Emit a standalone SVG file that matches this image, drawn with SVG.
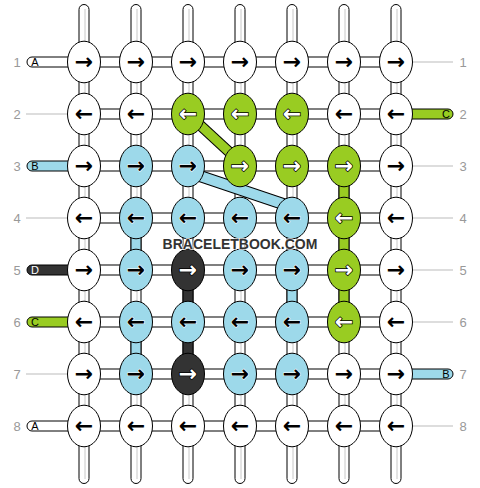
<svg xmlns="http://www.w3.org/2000/svg" width="480" height="488" viewBox="0 0 480 488">
<style>
.t{fill:#fff;stroke:#000;stroke-width:1}
.gl{stroke:#c8c8c8;stroke-width:1}
.lg{stroke:#bbb;stroke-width:1}
.cb{fill:#9dd9ea}.cg{fill:#99cc22}.cd{fill:#333}.cw{fill:#fff}
.n{stroke:#000;stroke-width:1}
.a{font-family:"DejaVu Sans",sans-serif;font-weight:bold;font-size:22px;text-anchor:middle;paint-order:stroke}
.al{fill:#000;stroke:#fff;stroke-width:1}
.ad{fill:#fff;stroke:#000;stroke-width:1.5}
.rl{font-family:"Liberation Sans",Arial,sans-serif;font-size:13px;fill:#999;text-anchor:middle}
.tl{font-family:"Liberation Sans",Arial,sans-serif;font-size:11px;fill:#000;text-anchor:middle}
</style>
<g id="connectors">
<g>
<rect class="t" x="79" y="4.5" width="10" height="60" rx="5"/><line class="gl" x1="85" y1="9" x2="85" y2="60"/>
<rect class="t" x="131" y="4.5" width="10" height="60" rx="5"/><line class="gl" x1="137" y1="9" x2="137" y2="60"/>
<rect class="t" x="183" y="4.5" width="10" height="60" rx="5"/><line class="gl" x1="189" y1="9" x2="189" y2="60"/>
<rect class="t" x="235" y="4.5" width="10" height="60" rx="5"/><line class="gl" x1="241" y1="9" x2="241" y2="60"/>
<rect class="t" x="287" y="4.5" width="10" height="60" rx="5"/><line class="gl" x1="293" y1="9" x2="293" y2="60"/>
<rect class="t" x="339" y="4.5" width="10" height="60" rx="5"/><line class="gl" x1="345" y1="9" x2="345" y2="60"/>
<rect class="t" x="391" y="4.5" width="10" height="60" rx="5"/><line class="gl" x1="397" y1="9" x2="397" y2="60"/>
<rect class="t" x="79" y="424" width="10" height="59.5" rx="5"/><line class="gl" x1="85" y1="430" x2="85" y2="479"/>
<rect class="t" x="131" y="424" width="10" height="59.5" rx="5"/><line class="gl" x1="137" y1="430" x2="137" y2="479"/>
<rect class="t" x="183" y="424" width="10" height="59.5" rx="5"/><line class="gl" x1="189" y1="430" x2="189" y2="479"/>
<rect class="t" x="235" y="424" width="10" height="59.5" rx="5"/><line class="gl" x1="241" y1="430" x2="241" y2="479"/>
<rect class="t" x="287" y="424" width="10" height="59.5" rx="5"/><line class="gl" x1="293" y1="430" x2="293" y2="479"/>
<rect class="t" x="339" y="424" width="10" height="59.5" rx="5"/><line class="gl" x1="345" y1="430" x2="345" y2="479"/>
<rect class="t" x="391" y="424" width="10" height="59.5" rx="5"/><line class="gl" x1="397" y1="430" x2="397" y2="479"/>
</g>
<g>
<rect class="t" x="79" y="62" width="10" height="364"/><line class="gl" x1="85" y1="62" x2="85" y2="426"/>
<rect class="t" x="131" y="62" width="10" height="364"/><line class="gl" x1="137" y1="62" x2="137" y2="426"/>
<rect class="t" x="183" y="62" width="10" height="364"/><line class="gl" x1="189" y1="62" x2="189" y2="426"/>
<rect class="t" x="235" y="62" width="10" height="364"/><line class="gl" x1="241" y1="62" x2="241" y2="426"/>
<rect class="t" x="287" y="62" width="10" height="364"/><line class="gl" x1="293" y1="62" x2="293" y2="426"/>
<rect class="t" x="339" y="62" width="10" height="364"/><line class="gl" x1="345" y1="62" x2="345" y2="426"/>
<rect class="t" x="391" y="62" width="10" height="364"/><line class="gl" x1="397" y1="62" x2="397" y2="426"/>
</g>
<g stroke="#000" stroke-width="1">
<rect class="cg" x="339" y="166" width="10" height="156"/>
<rect class="cb" x="131" y="218" width="10" height="52"/>
<rect class="cb" x="131" y="322" width="10" height="52"/>
<rect class="cb" x="287" y="270" width="10" height="52"/>
<rect class="cd" x="183" y="270" width="10" height="104"/>
</g>
<g>
<rect class="t" x="84" y="57" width="312" height="10"/>
<rect class="t" x="84" y="109" width="312" height="10"/>
<rect class="t" x="84" y="161" width="312" height="10"/>
<rect class="t" x="84" y="213" width="312" height="10"/>
<rect class="t" x="84" y="265" width="312" height="10"/>
<rect class="t" x="84" y="317" width="312" height="10"/>
<rect class="t" x="84" y="369" width="312" height="10"/>
<rect class="t" x="84" y="421" width="312" height="10"/>
</g>
<g stroke="#000" stroke-width="1">
<rect class="cw" x="27" y="57" width="52" height="10" rx="5"/>
<rect class="cb" x="27" y="161" width="52" height="10" rx="5"/>
<rect class="cd" x="27" y="265" width="52" height="10" rx="5"/>
<rect class="cg" x="27" y="317" width="52" height="10" rx="5"/>
<rect class="cw" x="27" y="421" width="52" height="10" rx="5"/>
<rect class="cg" x="401" y="109" width="52" height="10" rx="5"/>
<rect class="cb" x="401" y="369" width="52" height="10" rx="5"/>
</g>
<g>
<line class="lg" x1="26" y1="114" x2="68" y2="114"/>
<line class="lg" x1="26" y1="218" x2="68" y2="218"/>
<line class="lg" x1="26" y1="374" x2="68" y2="374"/>
<line class="lg" x1="412" y1="62" x2="453" y2="62"/>
<line class="lg" x1="412" y1="166" x2="453" y2="166"/>
<line class="lg" x1="412" y1="218" x2="453" y2="218"/>
<line class="lg" x1="412" y1="270" x2="453" y2="270"/>
<line class="lg" x1="412" y1="322" x2="453" y2="322"/>
<line class="lg" x1="412" y1="426" x2="453" y2="426"/>
</g>
<g stroke-linecap="butt">
<line x1="188" y1="114" x2="240" y2="162" stroke="#000" stroke-width="11"/>
<line x1="188" y1="114" x2="240" y2="162" stroke="#99cc22" stroke-width="9"/>
<line x1="188" y1="172" x2="292" y2="207" stroke="#000" stroke-width="12"/>
<line x1="188" y1="172" x2="292" y2="207" stroke="#9dd9ea" stroke-width="10"/>
</g>
</g>
<g id="thread-labels">
<text class="tl" x="35" y="66">A</text>
<text class="tl" x="35" y="170">B</text>
<text class="tl" x="35" y="274" style="fill:#fff">D</text>
<text class="tl" x="35" y="326">C</text>
<text class="tl" x="35" y="430">A</text>
<text class="tl" x="446" y="118">C</text>
<text class="tl" x="446" y="378">B</text>
</g>
<g id="row-labels">
<text class="rl" x="17" y="67">1</text><text class="rl" x="463" y="67">1</text>
<text class="rl" x="17" y="119">2</text><text class="rl" x="463" y="119">2</text>
<text class="rl" x="17" y="171">3</text><text class="rl" x="463" y="171">3</text>
<text class="rl" x="17" y="223">4</text><text class="rl" x="463" y="223">4</text>
<text class="rl" x="17" y="275">5</text><text class="rl" x="463" y="275">5</text>
<text class="rl" x="17" y="327">6</text><text class="rl" x="463" y="327">6</text>
<text class="rl" x="17" y="379">7</text><text class="rl" x="463" y="379">7</text>
<text class="rl" x="17" y="431">8</text><text class="rl" x="463" y="431">8</text>
</g>
<g id="nodes">
<g id="n1-1"><ellipse class="n cw" cx="84" cy="62" rx="16.5" ry="20.8"/><text class="a al" x="84" y="69">→</text></g>
<g id="n1-2"><ellipse class="n cw" cx="136" cy="62" rx="16.5" ry="20.8"/><text class="a al" x="136" y="69">→</text></g>
<g id="n1-3"><ellipse class="n cw" cx="188" cy="62" rx="16.5" ry="20.8"/><text class="a al" x="188" y="69">→</text></g>
<g id="n1-4"><ellipse class="n cw" cx="240" cy="62" rx="16.5" ry="20.8"/><text class="a al" x="240" y="69">→</text></g>
<g id="n1-5"><ellipse class="n cw" cx="292" cy="62" rx="16.5" ry="20.8"/><text class="a al" x="292" y="69">→</text></g>
<g id="n1-6"><ellipse class="n cw" cx="344" cy="62" rx="16.5" ry="20.8"/><text class="a al" x="344" y="69">→</text></g>
<g id="n1-7"><ellipse class="n cw" cx="396" cy="62" rx="16.5" ry="20.8"/><text class="a al" x="396" y="69">→</text></g>

<g id="n2-1"><ellipse class="n cw" cx="84" cy="114" rx="16.5" ry="20.8"/><text class="a al" x="84" y="121">←</text></g>
<g id="n2-2"><ellipse class="n cw" cx="136" cy="114" rx="16.5" ry="20.8"/><text class="a al" x="136" y="121">←</text></g>
<g id="n2-3"><ellipse class="n cg" cx="188" cy="114" rx="16.5" ry="20.8"/><text class="a ad" x="188" y="121">←</text></g>
<g id="n2-4"><ellipse class="n cg" cx="240" cy="114" rx="16.5" ry="20.8"/><text class="a ad" x="240" y="121">←</text></g>
<g id="n2-5"><ellipse class="n cg" cx="292" cy="114" rx="16.5" ry="20.8"/><text class="a ad" x="292" y="121">←</text></g>
<g id="n2-6"><ellipse class="n cw" cx="344" cy="114" rx="16.5" ry="20.8"/><text class="a al" x="344" y="121">←</text></g>
<g id="n2-7"><ellipse class="n cw" cx="396" cy="114" rx="16.5" ry="20.8"/><text class="a al" x="396" y="121">←</text></g>

<g id="n3-1"><ellipse class="n cw" cx="84" cy="166" rx="16.5" ry="20.8"/><text class="a al" x="84" y="173">→</text></g>
<g id="n3-2"><ellipse class="n cb" cx="136" cy="166" rx="16.5" ry="20.8"/><text class="a al" x="136" y="173">→</text></g>
<g id="n3-3"><ellipse class="n cb" cx="188" cy="166" rx="16.5" ry="20.8"/><text class="a al" x="188" y="173">→</text></g>
<g id="n3-4"><ellipse class="n cg" cx="240" cy="166" rx="16.5" ry="20.8"/><text class="a ad" x="240" y="173">→</text></g>
<g id="n3-5"><ellipse class="n cg" cx="292" cy="166" rx="16.5" ry="20.8"/><text class="a ad" x="292" y="173">→</text></g>
<g id="n3-6"><ellipse class="n cg" cx="344" cy="166" rx="16.5" ry="20.8"/><text class="a ad" x="344" y="173">→</text></g>
<g id="n3-7"><ellipse class="n cw" cx="396" cy="166" rx="16.5" ry="20.8"/><text class="a al" x="396" y="173">→</text></g>

<g id="n4-1"><ellipse class="n cw" cx="84" cy="218" rx="16.5" ry="20.8"/><text class="a al" x="84" y="225">←</text></g>
<g id="n4-2"><ellipse class="n cb" cx="136" cy="218" rx="16.5" ry="20.8"/><text class="a al" x="136" y="225">←</text></g>
<g id="n4-3"><ellipse class="n cb" cx="188" cy="218" rx="16.5" ry="20.8"/><text class="a al" x="188" y="225">←</text></g>
<g id="n4-4"><ellipse class="n cb" cx="240" cy="218" rx="16.5" ry="20.8"/><text class="a al" x="240" y="225">←</text></g>
<g id="n4-5"><ellipse class="n cb" cx="292" cy="218" rx="16.5" ry="20.8"/><text class="a al" x="292" y="225">←</text></g>
<g id="n4-6"><ellipse class="n cg" cx="344" cy="218" rx="16.5" ry="20.8"/><text class="a ad" x="344" y="225">←</text></g>
<g id="n4-7"><ellipse class="n cw" cx="396" cy="218" rx="16.5" ry="20.8"/><text class="a al" x="396" y="225">←</text></g>

<g id="n5-1"><ellipse class="n cw" cx="84" cy="270" rx="16.5" ry="20.8"/><text class="a al" x="84" y="277">→</text></g>
<g id="n5-2"><ellipse class="n cb" cx="136" cy="270" rx="16.5" ry="20.8"/><text class="a al" x="136" y="277">→</text></g>
<g id="n5-3"><ellipse class="n cd" cx="188" cy="270" rx="16.5" ry="20.8"/><text class="a ad" x="188" y="277">→</text></g>
<g id="n5-4"><ellipse class="n cb" cx="240" cy="270" rx="16.5" ry="20.8"/><text class="a al" x="240" y="277">→</text></g>
<g id="n5-5"><ellipse class="n cb" cx="292" cy="270" rx="16.5" ry="20.8"/><text class="a al" x="292" y="277">→</text></g>
<g id="n5-6"><ellipse class="n cg" cx="344" cy="270" rx="16.5" ry="20.8"/><text class="a ad" x="344" y="277">→</text></g>
<g id="n5-7"><ellipse class="n cw" cx="396" cy="270" rx="16.5" ry="20.8"/><text class="a al" x="396" y="277">→</text></g>

<g id="n6-1"><ellipse class="n cw" cx="84" cy="322" rx="16.5" ry="20.8"/><text class="a al" x="84" y="329">←</text></g>
<g id="n6-2"><ellipse class="n cb" cx="136" cy="322" rx="16.5" ry="20.8"/><text class="a al" x="136" y="329">←</text></g>
<g id="n6-3"><ellipse class="n cb" cx="188" cy="322" rx="16.5" ry="20.8"/><text class="a al" x="188" y="329">←</text></g>
<g id="n6-4"><ellipse class="n cb" cx="240" cy="322" rx="16.5" ry="20.8"/><text class="a al" x="240" y="329">←</text></g>
<g id="n6-5"><ellipse class="n cb" cx="292" cy="322" rx="16.5" ry="20.8"/><text class="a al" x="292" y="329">←</text></g>
<g id="n6-6"><ellipse class="n cg" cx="344" cy="322" rx="16.5" ry="20.8"/><text class="a ad" x="344" y="329">←</text></g>
<g id="n6-7"><ellipse class="n cw" cx="396" cy="322" rx="16.5" ry="20.8"/><text class="a al" x="396" y="329">←</text></g>

<g id="n7-1"><ellipse class="n cw" cx="84" cy="374" rx="16.5" ry="20.8"/><text class="a al" x="84" y="381">→</text></g>
<g id="n7-2"><ellipse class="n cb" cx="136" cy="374" rx="16.5" ry="20.8"/><text class="a al" x="136" y="381">→</text></g>
<g id="n7-3"><ellipse class="n cd" cx="188" cy="374" rx="16.5" ry="20.8"/><text class="a ad" x="188" y="381">→</text></g>
<g id="n7-4"><ellipse class="n cb" cx="240" cy="374" rx="16.5" ry="20.8"/><text class="a al" x="240" y="381">→</text></g>
<g id="n7-5"><ellipse class="n cb" cx="292" cy="374" rx="16.5" ry="20.8"/><text class="a al" x="292" y="381">→</text></g>
<g id="n7-6"><ellipse class="n cw" cx="344" cy="374" rx="16.5" ry="20.8"/><text class="a al" x="344" y="381">→</text></g>
<g id="n7-7"><ellipse class="n cw" cx="396" cy="374" rx="16.5" ry="20.8"/><text class="a al" x="396" y="381">→</text></g>

<g id="n8-1"><ellipse class="n cw" cx="84" cy="426" rx="16.5" ry="20.8"/><text class="a al" x="84" y="433">←</text></g>
<g id="n8-2"><ellipse class="n cw" cx="136" cy="426" rx="16.5" ry="20.8"/><text class="a al" x="136" y="433">←</text></g>
<g id="n8-3"><ellipse class="n cw" cx="188" cy="426" rx="16.5" ry="20.8"/><text class="a al" x="188" y="433">←</text></g>
<g id="n8-4"><ellipse class="n cw" cx="240" cy="426" rx="16.5" ry="20.8"/><text class="a al" x="240" y="433">←</text></g>
<g id="n8-5"><ellipse class="n cw" cx="292" cy="426" rx="16.5" ry="20.8"/><text class="a al" x="292" y="433">←</text></g>
<g id="n8-6"><ellipse class="n cw" cx="344" cy="426" rx="16.5" ry="20.8"/><text class="a al" x="344" y="433">←</text></g>
<g id="n8-7"><ellipse class="n cw" cx="396" cy="426" rx="16.5" ry="20.8"/><text class="a al" x="396" y="433">←</text></g>
</g>
<g id="watermark">
<text x="240" y="249" font-family="'Liberation Sans',Arial,sans-serif" font-weight="bold" font-size="14" text-anchor="middle" fill="#333" stroke="#fff" stroke-width="2" stroke-opacity="0.7" paint-order="stroke">BRACELETBOOK.COM</text>
</g>
</svg>
